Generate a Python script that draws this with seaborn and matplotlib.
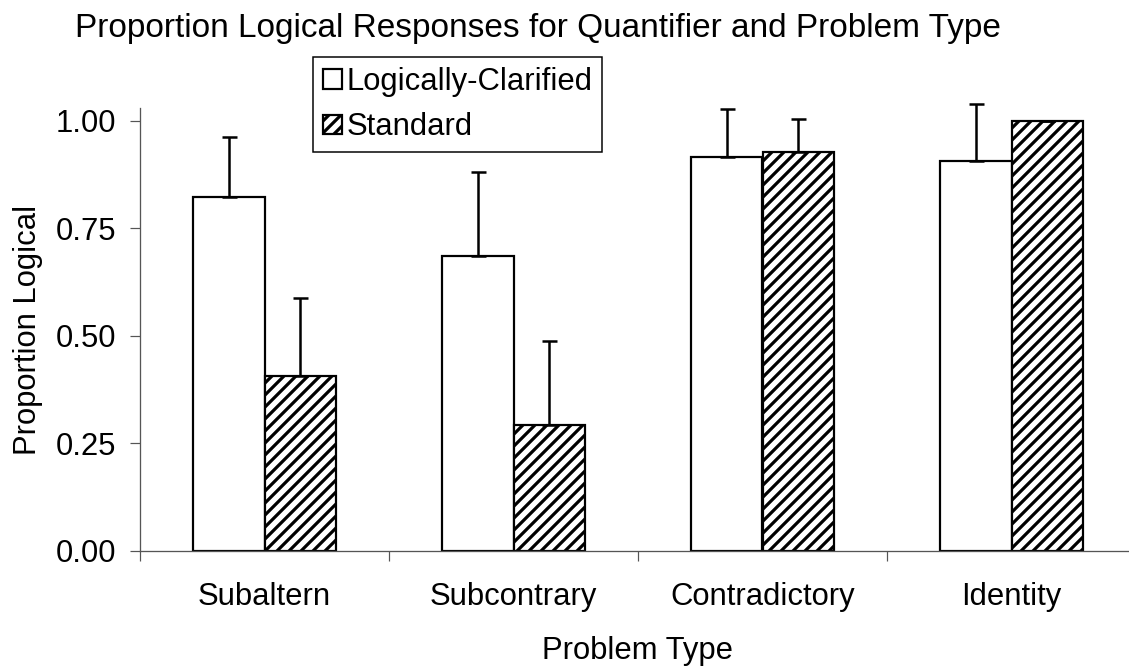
import numpy as np
import pandas as pd
import matplotlib
matplotlib.use("Agg")
import matplotlib.pyplot as plt
from matplotlib.ticker import FixedLocator
import seaborn as sns

# values
problem_types = ["Subaltern", "Subcontrary", "Contradictory", "Identity"]
conditions = ["Logically-Clarified", "Standard"]
clarified_means = [0.823, 0.686, 0.916, 0.907]
standard_means = [0.407, 0.293, 0.928, 1.000]
# upper error bar half-lengths
clarified_err = [0.140, 0.195, 0.112, 0.133]
standard_err = [0.182, 0.195, 0.077, 0.0]

df = pd.DataFrame({
    "problem": problem_types * 2,
    "condition": [conditions[0]] * 4 + [conditions[1]] * 4,
    "prop": clarified_means + standard_means,
})

sns.set_theme(style="white")
plt.rcParams["font.family"] = ["Liberation Sans", "DejaVu Sans"]
plt.rcParams["text.color"] = "black"
plt.rcParams["axes.labelcolor"] = "black"
plt.rcParams["xtick.labelcolor"] = "black"
plt.rcParams["ytick.labelcolor"] = "black"
plt.rcParams["hatch.linewidth"] = 3.2
plt.rcParams["hatch.color"] = "black"

FS = 31
DPI = 72
fig = plt.figure(figsize=(1129 / DPI, 670 / DPI), dpi=DPI)
ax = fig.add_axes([140 / 1129, 119 / 670, 996 / 1129, 443 / 670])

sns.barplot(data=df, x="problem", y="prop", hue="condition",
            order=problem_types, hue_order=conditions,
            palette=["white", "white"], edgecolor="black", linewidth=2.2,
            width=0.575, saturation=1, legend=False, ax=ax)

# hatch the Standard bars
for p in ax.containers[1]:
    p.set_hatch("//")

# upper-only error bars at each bar's centre
for cont, errs in zip(ax.containers, [clarified_err, standard_err]):
    xs = [p.get_x() + p.get_width() / 2 for p in cont]
    hs = [p.get_height() for p in cont]
    eb = ax.errorbar(xs, hs, yerr=[np.zeros(len(errs)), errs], fmt="none",
                     ecolor="black", elinewidth=2.5, capsize=7.5,
                     capthick=2.5, zorder=1)
    for art in eb.lines[1] + eb.lines[2]:
        art.set_clip_on(False)

ax.set_xlim(-0.5, 3.5)
ax.set_ylim(0, 1.03)
ax.set_yticks([0, 0.25, 0.5, 0.75, 1.0])
ax.set_yticklabels(["0.00", "0.25", "0.50", "0.75", "1.00"])

# labels at group centres, tick marks at group boundaries
ax.set_xticks(range(len(problem_types)))
ax.set_xticklabels(problem_types)
ax.xaxis.set_minor_locator(FixedLocator(np.arange(-0.5, 3.6, 1.0)))
ax.tick_params(axis="x", which="major", length=0, pad=31, labelsize=FS)
ax.tick_params(axis="x", which="minor", bottom=True, length=10, width=1.2,
               color="#555555")
ax.tick_params(axis="y", left=True, length=10, width=1.2, color="#555555",
               pad=14, labelsize=FS)

for side in ["top", "right"]:
    ax.spines[side].set_visible(False)
for side in ["left", "bottom"]:
    ax.spines[side].set_color("#555555")
    ax.spines[side].set_linewidth(1.3)

ax.set_xlabel("Problem Type", fontsize=FS, labelpad=24)
ax.set_ylabel("Proportion Logical", fontsize=FS, labelpad=12)

fig.text(538 / 1129, 1 - 28 / 670,
         "Proportion Logical Responses for Quantifier and Problem Type",
         ha="center", va="center", fontsize=33.4)

handles = [ax.containers[0][0], ax.containers[1][0]]
leg = ax.legend(handles, conditions, loc="upper left",
                bbox_to_anchor=(313 / 1129, 1 - 57 / 670),
                bbox_transform=fig.transFigure, fontsize=FS,
                frameon=True, fancybox=False, edgecolor="black",
                framealpha=1, handlelength=0.6, handleheight=0.6,
                handletextpad=0.15, borderpad=0.32, labelspacing=0.5,
                borderaxespad=0)
leg.get_frame().set_linewidth(1.5)

fig.savefig("out.png", dpi=DPI, facecolor="white")
